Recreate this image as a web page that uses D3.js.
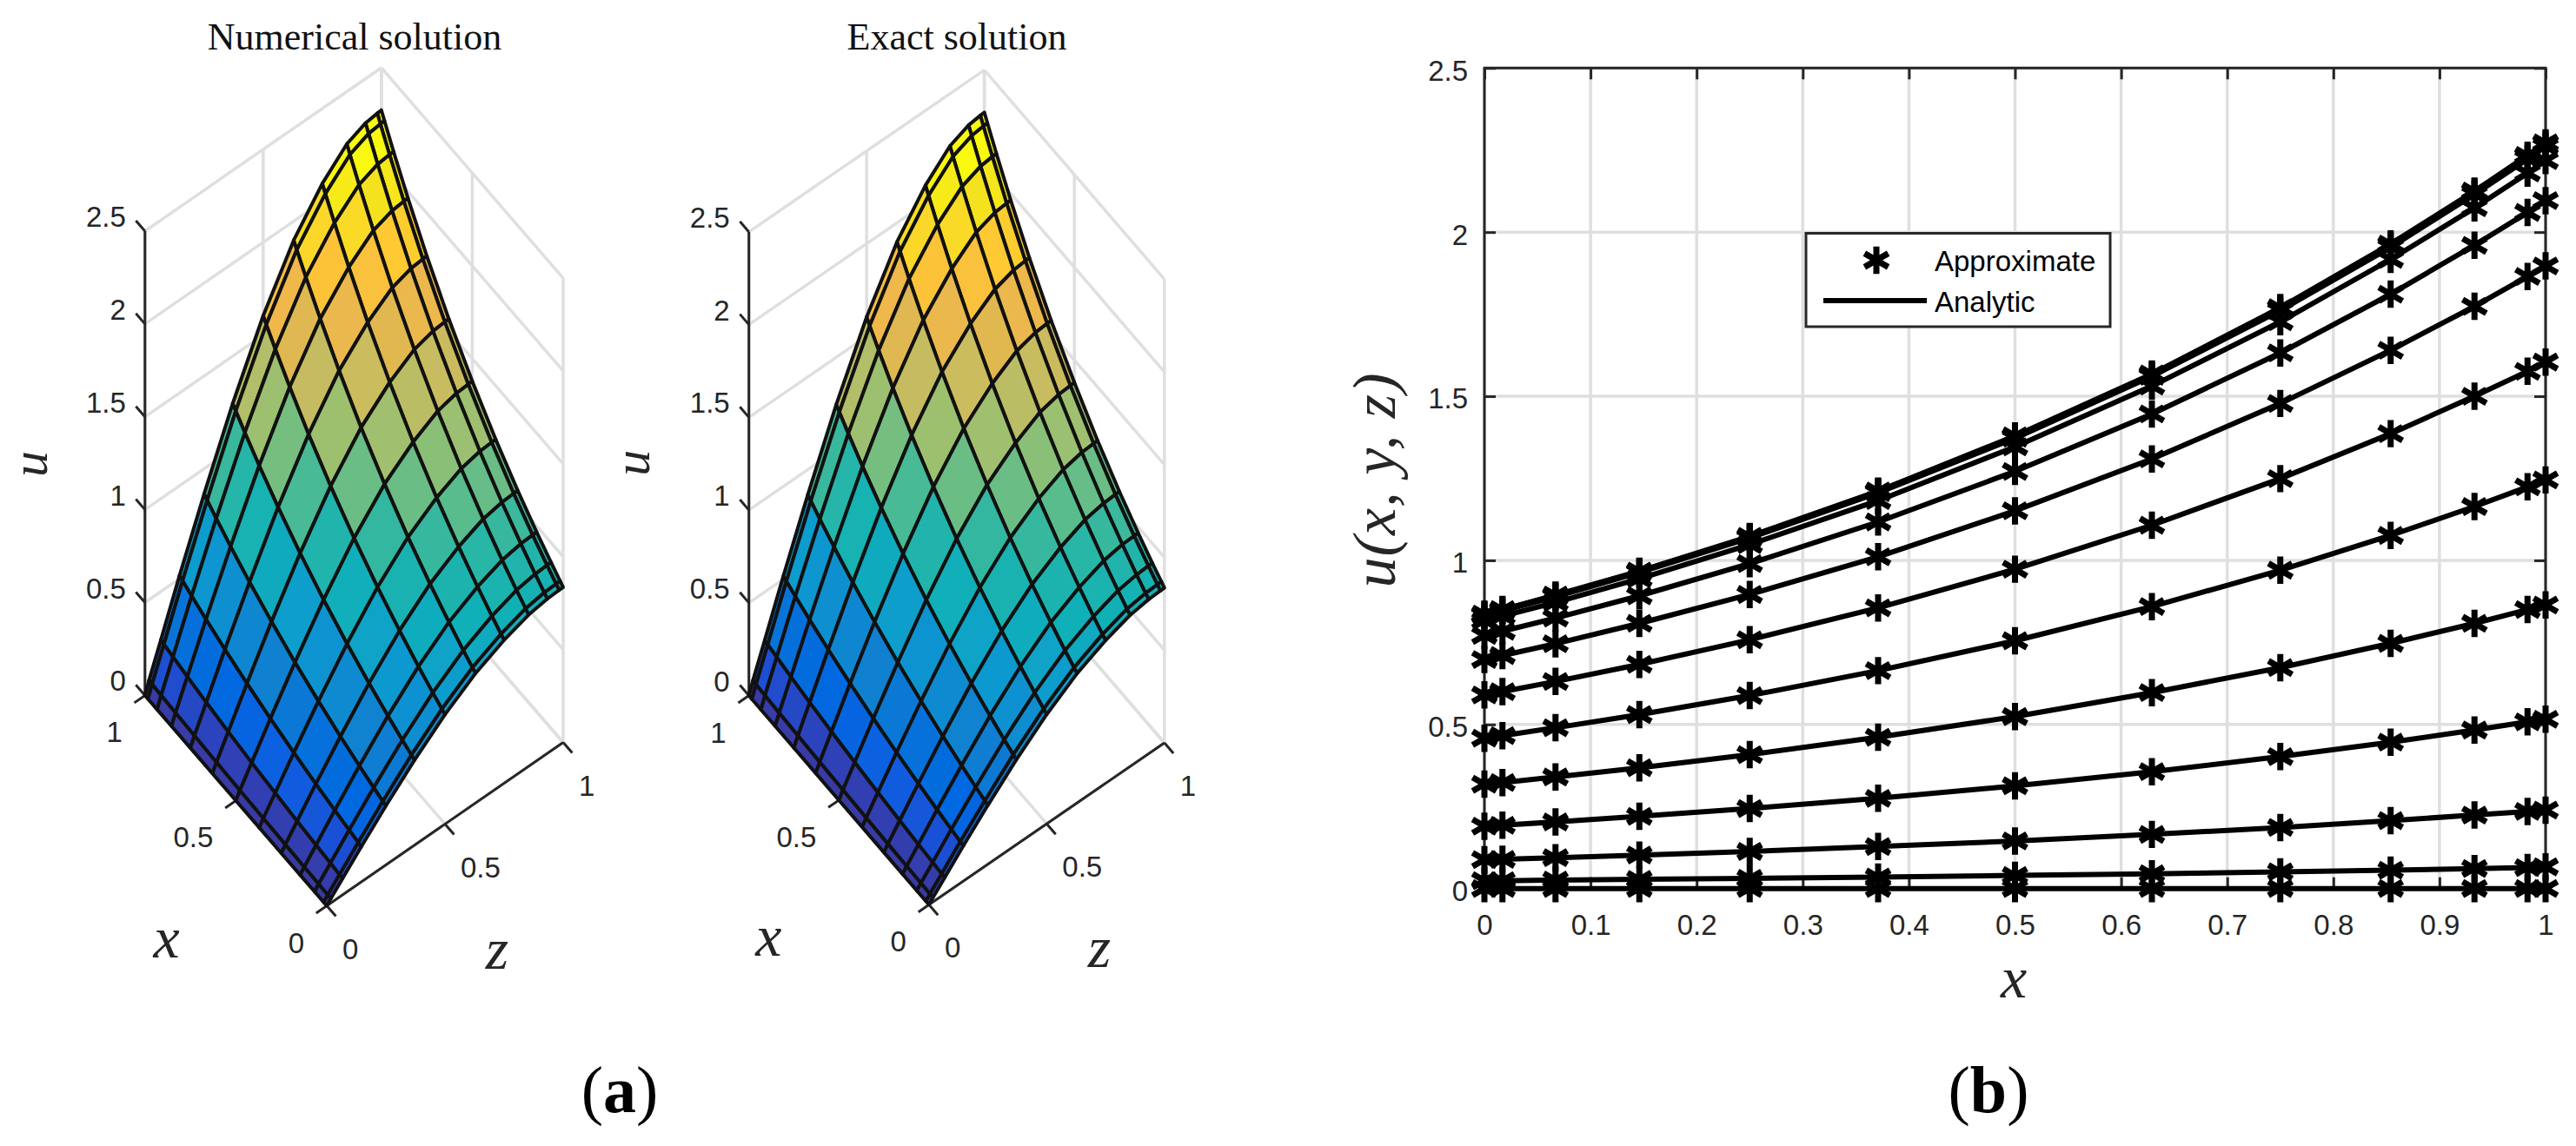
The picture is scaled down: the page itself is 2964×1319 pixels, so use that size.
<!DOCTYPE html>
<html>
<head>
<meta charset="utf-8">
<script src="https://cdn.jsdelivr.net/npm/d3@7"></script>
<style>
  html, body { margin: 0; padding: 0; background: #fff; }
  text { font-family: "Liberation Sans", sans-serif; fill: #262626; }
  .math { font-family: "Liberation Serif", serif; font-style: italic; }
  .roman { font-family: "Liberation Serif", serif; }
</style>
</head>
<body>
<svg id="chart" width="2964" height="1319"></svg>
<script>
// grid nodes, same for x and z
const xNodes = [0, 0.017, 0.067, 0.146, 0.25, 0.371, 0.5, 0.629, 0.75, 0.854, 0.933, 0.983, 1];
const zNodes = [0, 0.017, 0.067, 0.146, 0.25, 0.371, 0.5, 0.629, 0.75, 0.854, 0.933, 0.983, 1];

// u: one row per z node, one column per x node
const uValues = [
  [0, 0, 0, 0, 0, 0, 0, 0, 0, 0, 0, 0, 0],
  [0.024, 0.024, 0.026, 0.028, 0.031, 0.035, 0.040, 0.045, 0.051, 0.056, 0.061, 0.064, 0.066],
  [0.088, 0.089, 0.094, 0.102, 0.113, 0.128, 0.145, 0.165, 0.186, 0.207, 0.224, 0.235, 0.239],
  [0.190, 0.193, 0.203, 0.220, 0.244, 0.275, 0.313, 0.356, 0.402, 0.446, 0.483, 0.508, 0.516],
  [0.318, 0.323, 0.340, 0.368, 0.408, 0.461, 0.524, 0.597, 0.673, 0.747, 0.808, 0.850, 0.864],
  [0.458, 0.466, 0.490, 0.530, 0.588, 0.664, 0.755, 0.859, 0.970, 1.076, 1.164, 1.224, 1.245],
  [0.590, 0.600, 0.631, 0.683, 0.758, 0.855, 0.973, 1.107, 1.249, 1.386, 1.500, 1.576, 1.604],
  [0.698, 0.710, 0.746, 0.808, 0.896, 1.011, 1.151, 1.309, 1.478, 1.640, 1.774, 1.865, 1.897],
  [0.771, 0.784, 0.824, 0.892, 0.990, 1.117, 1.271, 1.446, 1.632, 1.811, 1.960, 2.060, 2.096],
  [0.816, 0.830, 0.872, 0.944, 1.048, 1.182, 1.346, 1.531, 1.727, 1.917, 2.074, 2.180, 2.218],
  [0.832, 0.846, 0.889, 0.963, 1.068, 1.206, 1.372, 1.561, 1.761, 1.954, 2.115, 2.223, 2.261],
  [0.835, 0.849, 0.893, 0.966, 1.072, 1.210, 1.377, 1.566, 1.768, 1.961, 2.123, 2.231, 2.270],
  [0.836, 0.850, 0.894, 0.967, 1.073, 1.211, 1.379, 1.568, 1.770, 1.964, 2.125, 2.234, 2.272]
];

const surfaceTicks = [0, 0.5, 1];
const uTicks = [0, 0.5, 1, 1.5, 2, 2.5];
const lineXTicks = [0, 0.1, 0.2, 0.3, 0.4, 0.5, 0.6, 0.7, 0.8, 0.9, 1];
const lineYTicks = [0, 0.5, 1, 1.5, 2, 2.5];
const legendItems = ["Approximate", "Analytic"];

const colorStops = [0, 0.1, 0.15, 0.2, 0.28, 0.45, 0.65, 0.82, 0.97, 1.09, 1.28, 1.45, 1.58, 1.68, 1.82, 1.92, 2.0, 2.15];
const colorValues = ["#3a3aa0", "#3040b5", "#1a50d5", "#0f5fe0", "#0068e0", "#1080d0", "#0c9ad0", "#10b0b8", "#28b6a6",
  "#5abc8c", "#9cc070", "#c8bc60", "#e0b850", "#f0b84a", "#ffc535", "#fad828", "#f5e020", "#f8f810"];

const dark = "#262626", gridColor = "#dfdfdf";

const svg = d3.select("#chart");
const color = d3.scaleLinear().domain(colorStops).range(colorValues).clamp(true);

// surface panels: oblique projection, one pair of scales per axis
const addSurface = (cfg) => {
  const g = svg.append("g");

  const xDx = d3.scaleLinear().domain([0, 1]).range([cfg.o[0], cfg.xEnd[0]]),
        xDy = d3.scaleLinear().domain([0, 1]).range([cfg.o[1], cfg.xEnd[1]]),
        zDx = d3.scaleLinear().domain([0, 1]).range([0, cfg.zEnd[0] - cfg.o[0]]),
        zDy = d3.scaleLinear().domain([0, 1]).range([0, cfg.zEnd[1] - cfg.o[1]]),
        uDy = d3.scaleLinear().domain([0, 2.5]).range([0, cfg.uLen]);

  const project = (x, z, u) => [xDx(x) + zDx(z), xDy(x) + zDy(z) - uDy(u)];
  const line3 = d3.line();

  const seg = (a, b, stroke, width) => g.append("path")
    .attr("d", line3([project(...a), project(...b)]))
    .attr("fill", "none")
    .attr("stroke", stroke)
    .attr("stroke-width", width);

  // back walls and floor
  surfaceTicks.forEach(t => {
    seg([t, 0, 0], [t, 1, 0], gridColor, 3.5);
    seg([0, t, 0], [1, t, 0], gridColor, 3.5);
    seg([1, t, 0], [1, t, 2.5], gridColor, 3.5);
    seg([t, 1, 0], [t, 1, 2.5], gridColor, 3.5);
  });
  uTicks.forEach(t => {
    seg([1, 0, t], [1, 1, t], gridColor, 3.5);
    seg([1, 1, t], [0, 1, t], gridColor, 3.5);
  });

  // axes with ticks
  seg([1, 0, 0], [1, 0, 2.5], dark, 3);
  seg([0, 0, 0], [1, 0, 0], dark, 3);
  seg([0, 0, 0], [0, 1, 0], dark, 3);

  uTicks.forEach(t => {
    seg([1, 0, t], [1.05, 0, t], dark, 3);
    const p = project(1, 0, t);
    g.append("text")
      .attr("x", p[0] - 22).attr("y", p[1] - 5)
      .attr("text-anchor", "end")
      .attr("font-size", 33)
      .text(t);
  });
  surfaceTicks.forEach(t => {
    seg([t, 0, 0], [t, -0.045, 0], dark, 3);
    seg([0, t, 0], [-0.05, t, 0], dark, 3);
    const px = project(t, 0, 0), pz = project(0, t, 0);
    g.append("text")
      .attr("x", px[0] - 26).attr("y", px[1] + 54)
      .attr("text-anchor", "end")
      .attr("font-size", 33)
      .text(t);
    g.append("text")
      .attr("x", pz[0] + 18).attr("y", pz[1] + 61)
      .attr("font-size", 33)
      .text(t);
  });

  // faces, far corner first
  const faces = [];
  for (let i = 0; i < zNodes.length - 1; i++) {
    for (let j = 0; j < xNodes.length - 1; j++) {
      const corners = [[i, j], [i, j + 1], [i + 1, j + 1], [i + 1, j]];
      faces.push({
        depth: zNodes[i] + xNodes[j],
        mean: d3.mean(corners, c => uValues[c[0]][c[1]]),
        pts: corners.map(c => project(xNodes[c[1]], zNodes[c[0]], uValues[c[0]][c[1]]))
      });
    }
  }
  faces.sort((a, b) => b.depth - a.depth);

  g.append("g")
    .selectAll("path")
    .data(faces)
    .join("path")
      .attr("d", d => line3(d.pts) + "Z")
      .attr("fill", d => color(d.mean))
      .attr("stroke", "#111")
      .attr("stroke-width", 4)
      .attr("stroke-linejoin", "round");

  // axis letters
  g.append("text").attr("class", "math").attr("font-size", 60)
    .attr("transform", `translate(${cfg.o[0] - 322},${cfg.o[1] - 508.5}) rotate(-90)`)
    .attr("text-anchor", "middle").text("u");
  g.append("text").attr("class", "math").attr("font-size", 68)
    .attr("x", cfg.o[0] - 184.5).attr("y", cfg.o[1] + 59)
    .attr("text-anchor", "middle").text("x");
  g.append("text").attr("class", "math").attr("font-size", 68)
    .attr("x", cfg.o[0] + 196).attr("y", cfg.o[1] + 72)
    .attr("text-anchor", "middle").text("z");

  g.append("text").attr("class", "roman")
    .attr("x", cfg.titleX).attr("y", 57)
    .attr("text-anchor", "middle")
    .attr("font-size", 44)
    .style("fill", "#111")
    .text(cfg.title);
};

addSurface({
  title: "Numerical solution", titleX: 408,
  o: [376, 1042.5], xEnd: [166.8, 800.4], zEnd: [648, 854.5], uLen: 534.4
});
addSurface({
  title: "Exact solution", titleX: 1101,
  o: [1068.9, 1041.3], xEnd: [861.7, 800.6], zEnd: [1339.8, 855], uLen: 533.7
});

// line panel
const plot = { left: 1708, right: 2929, top: 78.3, bottom: 1022.7 };
const xScale = d3.scaleLinear().domain([0, 1]).range([plot.left, plot.right]);
const yScale = d3.scaleLinear().domain([0, 2.5]).range([plot.bottom, plot.top]);

const grid = svg.append("g").attr("stroke", gridColor).attr("stroke-width", 3.5);
grid.selectAll("line.v").data(lineXTicks).join("line").attr("class", "v")
  .attr("x1", d => xScale(d)).attr("x2", d => xScale(d))
  .attr("y1", plot.top).attr("y2", plot.bottom);
grid.selectAll("line.h").data(lineYTicks).join("line").attr("class", "h")
  .attr("y1", d => yScale(d)).attr("y2", d => yScale(d))
  .attr("x1", plot.left).attr("x2", plot.right);

const styleAxis = (g) => {
  g.selectAll(".domain").remove();
  g.selectAll(".tick line").attr("stroke", dark).attr("stroke-width", 3);
  g.selectAll(".tick text").attr("font-size", 33).attr("font-family", "Liberation Sans").attr("fill", dark);
};

svg.append("g").attr("transform", `translate(0,${plot.bottom})`)
  .call(d3.axisBottom(xScale).tickValues(lineXTicks).tickFormat(d => d).tickSize(-13).tickSizeOuter(0).tickPadding(30))
  .call(styleAxis);
svg.append("g").attr("transform", `translate(0,${plot.top})`)
  .call(d3.axisTop(xScale).tickValues(lineXTicks).tickFormat("").tickSize(-13).tickSizeOuter(0))
  .call(styleAxis);
svg.append("g").attr("transform", `translate(${plot.left},0)`)
  .call(d3.axisLeft(yScale).tickValues(lineYTicks).tickFormat(d => d).tickSize(-13).tickSizeOuter(0).tickPadding(19))
  .call(styleAxis)
  .selectAll(".tick text").attr("dy", "0.42em");
svg.append("g").attr("transform", `translate(${plot.right},0)`)
  .call(d3.axisRight(yScale).tickValues(lineYTicks).tickFormat("").tickSize(-13).tickSizeOuter(0))
  .call(styleAxis);

svg.append("rect")
  .attr("x", plot.left).attr("y", plot.top)
  .attr("width", plot.right - plot.left).attr("height", plot.bottom - plot.top)
  .attr("fill", "none").attr("stroke", dark).attr("stroke-width", 3);

const line = d3.line()
  .x((d, i) => xScale(xNodes[i]))
  .y(d => yScale(d));
const star = d3.symbol().type(d3.symbolAsterisk).size(700);

const curves = svg.append("g");
curves.selectAll("path")
  .data(uValues)
  .join("path")
    .attr("d", line)
    .attr("fill", "none")
    .attr("stroke", "#000")
    .attr("stroke-width", 6);
uValues.forEach(row => {
  curves.append("g").selectAll("path")
    .data(row)
    .join("path")
      .attr("d", star)
      .attr("transform", (d, i) => `translate(${xScale(xNodes[i])},${yScale(d)})`)
      .attr("fill", "none")
      .attr("stroke", "#000")
      .attr("stroke-width", 7);
});

// legend
const legend = svg.append("g");
legend.append("rect")
  .attr("x", 2078).attr("y", 268.5).attr("width", 350).attr("height", 107.5)
  .attr("fill", "#fff").attr("stroke", dark).attr("stroke-width", 3);
legend.append("path")
  .attr("d", star)
  .attr("transform", "translate(2159,299.5)")
  .attr("fill", "none").attr("stroke", "#000").attr("stroke-width", 7);
legend.append("line")
  .attr("x1", 2098).attr("x2", 2217).attr("y1", 346).attr("y2", 346)
  .attr("stroke", "#000").attr("stroke-width", 6);
legend.selectAll("text").data(legendItems).join("text")
  .attr("x", 2226)
  .attr("y", (d, i) => i ? 359 : 312)
  .attr("font-size", 33)
  .style("fill", "#000")
  .text(d => d);

// line panel labels
svg.append("text").attr("class", "math").attr("font-size", 68)
  .attr("x", 2317).attr("y", 1148).attr("text-anchor", "middle").text("x");
svg.append("text").attr("class", "math").attr("font-size", 70)
  .attr("transform", "translate(1605,553) rotate(-90)")
  .attr("text-anchor", "middle")
  .attr("textLength", 247)
  .style("fill", dark)
  .text("u(x, y, z)");

// sub-figure letters
const subLabel = (x, letter) => {
  const t = svg.append("text").attr("class", "roman").attr("x", x).attr("y", 1280)
    .attr("text-anchor", "middle").attr("font-size", 76).style("fill", "#000");
  t.append("tspan").text("(");
  t.append("tspan").attr("font-weight", "bold").text(letter);
  t.append("tspan").text(")");
};
subLabel(713, "a");
subLabel(2288, "b");
</script>
</body>
</html>
